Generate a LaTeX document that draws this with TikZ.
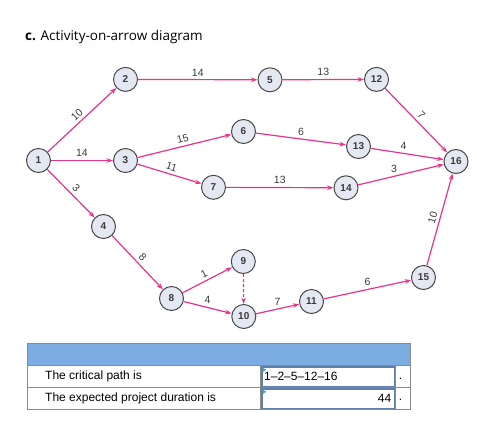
\documentclass[tikz,border=0pt]{standalone}
\usepackage{fontspec}
\setmainfont{Liberation Sans}
\newfontfamily\titlefont{Open Sans}
\usetikzlibrary{arrows.meta}
\definecolor{edgepink}{HTML}{E8338A}
\definecolor{nodefill}{HTML}{E3E8F2}
\definecolor{nodeline}{HTML}{4A4A4A}
\definecolor{labgray}{HTML}{3A3A3A}
\definecolor{hdrblue}{HTML}{7BADE3}
\definecolor{tblgray}{HTML}{8A8A8A}
\definecolor{boxblue}{HTML}{5F7FA8}
\begin{document}
\begin{tikzpicture}[x=1pt,y=-1pt,
  ev/.style={circle,draw=nodeline,line width=1pt,fill=nodefill,minimum size=24pt,inner sep=0pt,
    font=\fontsize{10}{11}\selectfont\bfseries,text=labgray},
  act/.style={draw=edgepink,color=edgepink,line width=1.2pt,-{Stealth[length=6.5pt,width=4.5pt]}},
  lab/.style={font=\fontsize{10.5}{11}\selectfont,text=labgray,inner sep=1pt,above=2pt},
  cell/.style={font=\fontsize{12}{14}\selectfont,text=black,inner sep=0pt}]
\useasboundingbox (0,0) rectangle (477,429);
\node[anchor=west,inner sep=0pt,font=\titlefont\fontsize{13.5}{15}\selectfont] (title) at (25,37) {\textbf{c.} Activity-on-arrow diagram};
% events
\node[ev] (n1) at (38.5,160.5) {1};
\node[ev] (n2) at (125.5,79.4) {2};
\node[ev] (n3) at (125.5,160.5) {3};
\node[ev] (n4) at (103.5,226.5) {4};
\node[ev] (n5) at (270,79.8) {5};
\node[ev] (n6) at (243.5,131.5) {6};
\node[ev] (n7) at (213.5,187.3) {7};
\node[ev] (n8) at (171.5,298.5) {8};
\node[ev] (n9) at (243.3,261.5) {9};
\node[ev] (n10) at (243.8,316.5) {10};
\node[ev] (n11) at (311.5,301.5) {11};
\node[ev] (n12) at (376.5,79.4) {12};
\node[ev] (n13) at (358.5,146.5) {13};
\node[ev] (n14) at (346,187.8) {14};
\node[ev] (n15) at (423.5,277.5) {15};
\node[ev] (n16) at (456,161.5) {16};
% activities
\draw[act] (n1) -- node[lab,sloped] {10} (n2);
\draw[act] (n1) -- node[lab] {14} (n3);
\draw[act] (n1) -- node[lab,sloped] {3} (n4);
\draw[act] (n2) -- node[lab] {14} (n5);
\draw[act] (n3) -- node[lab,sloped] {15} (n6);
\draw[act] (n3) -- node[lab,sloped] {11} (n7);
\draw[act] (n4) -- node[lab,sloped] {8} (n8);
\draw[act] (n5) -- node[lab] {13} (n12);
\draw[act] (n6) -- node[lab] {6} (n13);
\draw[act] (n7) -- node[lab] {13} (n14);
\draw[act] (n8) -- node[lab,sloped] {1} (n9);
\draw[act] (n8) -- node[lab] {4} (n10);
\draw[act,dash pattern=on 3pt off 2pt] (n9) -- (n10);
\draw[act] (n10) -- node[lab] {7} (n11);
\draw[act] (n11) -- node[lab] {6} (n15);
\draw[act] (n12) -- node[lab,sloped] {7} (n16);
\draw[act] (n13) -- node[lab,pos=0.45] {4} (n16);
\draw[act] (n14) -- node[lab,pos=0.42] {3} (n16);
\draw[act] (n15) -- node[lab,sloped] {10} (n16);
% table
\fill[hdrblue] (27.5,343.5) rectangle (410.5,365.5);
\draw[tblgray,line width=1pt] (27.5,343.5) rectangle (410.5,409.5);
\draw[tblgray,line width=1pt] (27.5,365.5) -- (410.5,365.5);
\draw[tblgray,line width=1pt] (27.5,387.5) -- (410.5,387.5);
\draw[tblgray,line width=1pt] (260.5,365.5) -- (260.5,409.5);
\draw[tblgray,line width=1pt] (395.5,365.5) -- (395.5,409.5);
\node[cell,anchor=west] (r1) at (45,376.5) {The critical path is};
\node[cell,anchor=west] (r2) at (45,398) {The expected project duration is};
\draw[boxblue,line width=1.5pt] (261.75,366.75) rectangle (394.25,386.25);
\draw[boxblue,line width=1.5pt] (261.75,388.75) rectangle (394.25,408.25);
\fill[boxblue!70!cyan] (262.5,367.5) -- (266.3,369.8) -- (262.5,372.1) -- cycle;
\fill[boxblue!70!cyan] (262.5,389.5) -- (266.3,391.8) -- (262.5,394.1) -- cycle;
\node[cell,anchor=west] (v1) at (264,376.5) {1--2--5--12--16};
\node[cell,anchor=east] (v2) at (391.5,398) {44};
\node[cell] (d1) at (400.5,378.5) {.};
\node[cell] (d2) at (400.5,400) {.};
\end{tikzpicture}
\end{document}
